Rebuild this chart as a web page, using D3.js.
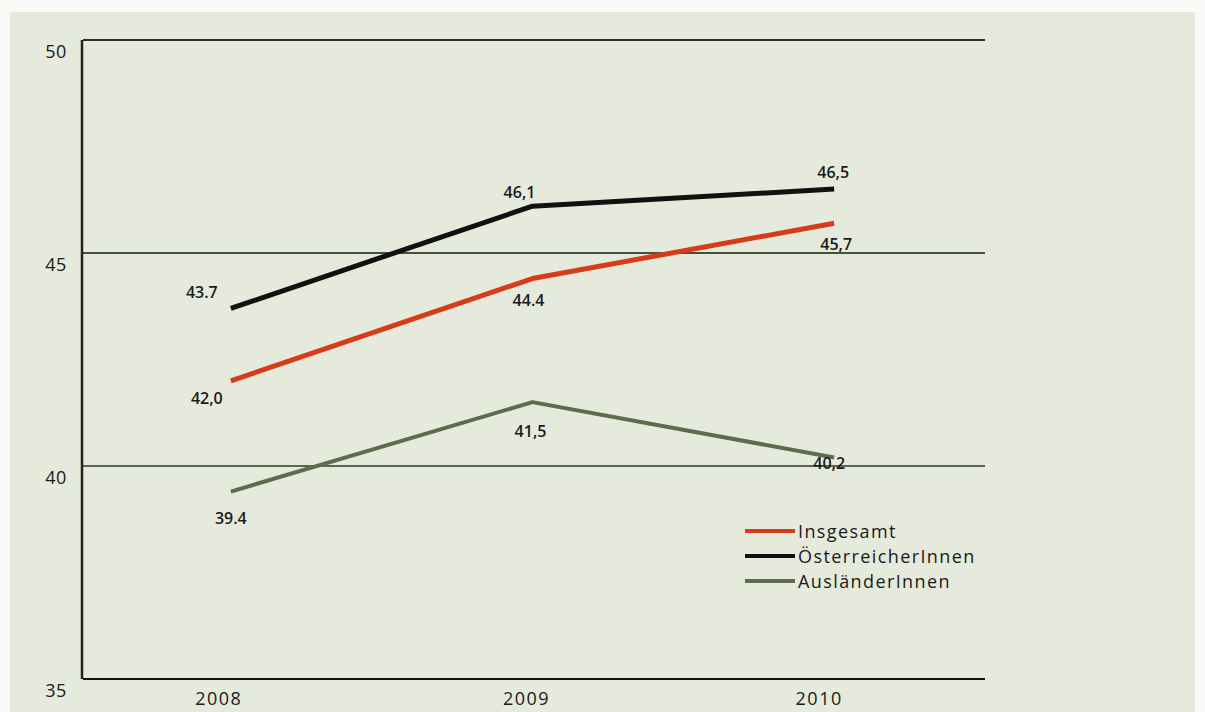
<!DOCTYPE html>
<html><head><meta charset="utf-8">
<script src="https://cdn.jsdelivr.net/npm/d3@7"></script>
<style>
html,body{margin:0;padding:0;background:#fafaf8;}
svg{display:block;}
text{font-family:"Open Sans","DejaVu Sans",sans-serif;fill:#1a1a1a;}
</style></head><body>
<script>
const years = ["2008", "2009", "2010"];
const insgesamt = [42.0, 44.4, 45.7];
const oesterreicher = [43.7, 46.1, 46.5];
const auslaender = [39.4, 41.5, 40.2];
const insgesamtLabels = ["42,0", "44.4", "45,7"];
const oesterreicherLabels = ["43.7", "46,1", "46,5"];
const auslaenderLabels = ["39.4", "41,5", "40,2"];
const yTicks = [35, 40, 45, 50];
const seriesNames = ["Insgesamt", "ÖsterreicherInnen", "AusländerInnen"];

const W = 1205, H = 712;
const svg = d3.select("body").append("svg").attr("width", W).attr("height", H);

// scanned paper background
svg.append("rect").attr("x", 10).attr("y", 12).attr("width", 1185).attr("height", 700).attr("fill", "#e5eadc");

const x = d3.scalePoint().domain(years).range([80, 985]).padding(0.5);
const y = d3.scaleLinear().domain([35, 50]).range([679, 40]);

// gridlines
const gridColor = {50: "#2a2e26", 45: "#45503d", 40: "#5a6650", 35: "#111"};
svg.append("g").selectAll("line").data(yTicks).join("line")
  .attr("x1", 83).attr("x2", 985)
  .attr("y1", d => y(d)).attr("y2", d => y(d))
  .attr("stroke", d => gridColor[d]).attr("stroke-width", 2);
// left axis
svg.append("line").attr("x1", 82).attr("x2", 82).attr("y1", y(50)).attr("y2", y(35))
  .attr("stroke", "#222").attr("stroke-width", 2.5);

// y tick labels
svg.append("g").selectAll("text").data(yTicks).join("text")
  .attr("x", 56).attr("y", d => y(d) + 18)
  .attr("text-anchor", "middle").attr("font-size", 18).attr("letter-spacing", 0.5).text(d => d);

// x labels
const xLabelShift = [-12, -6, -15];
svg.append("g").selectAll("text").data(years).join("text")
  .attr("x", (d, i) => x(d) + xLabelShift[i]).attr("y", 705)
  .attr("text-anchor", "middle").attr("font-size", 18).attr("letter-spacing", 1.5).text(d => d);

const line = d3.line().x((d, i) => x(years[i])).y(d => y(d));
const series = [
  {vals: auslaender, color: "#5d6b4e", w: 4, labels: auslaenderLabels, dx: [0, -2, -5], dy: [32, 35, 12]},
  {vals: insgesamt, color: "#d63c1c", w: 5, labels: insgesamtLabels, dx: [-24, -4, 2], dy: [23, 27, 27]},
  {vals: oesterreicher, color: "#111111", w: 5, labels: oesterreicherLabels, dx: [-29, -13, -1], dy: [-10, -8, -11]}
];
series.forEach(s => {
  svg.append("path").datum(s.vals).attr("d", line)
    .attr("fill", "none").attr("stroke", s.color).attr("stroke-width", s.w)
    .attr("stroke-linejoin", "round");
  svg.append("g").selectAll("text").data(s.vals).join("text")
    .attr("x", (d, i) => x(years[i]) + s.dx[i])
    .attr("y", (d, i) => y(d) + s.dy[i])
    .attr("text-anchor", "middle").attr("font-size", 16).attr("font-weight", 600)
    .text((d, i) => s.labels[i]);
});

// legend
const legColors = ["#d63c1c", "#111111", "#5d6b4e"];
const leg = svg.append("g");
seriesNames.forEach((n, i) => {
  const ly = 531 + i * 25;
  leg.append("line").attr("x1", 745).attr("x2", 795).attr("y1", ly).attr("y2", ly)
    .attr("stroke", legColors[i]).attr("stroke-width", 4);
  leg.append("text").attr("x", 798).attr("y", ly + 7).attr("font-size", 18)
    .attr("letter-spacing", 1.4).text(n);
});
</script>
</body></html>
